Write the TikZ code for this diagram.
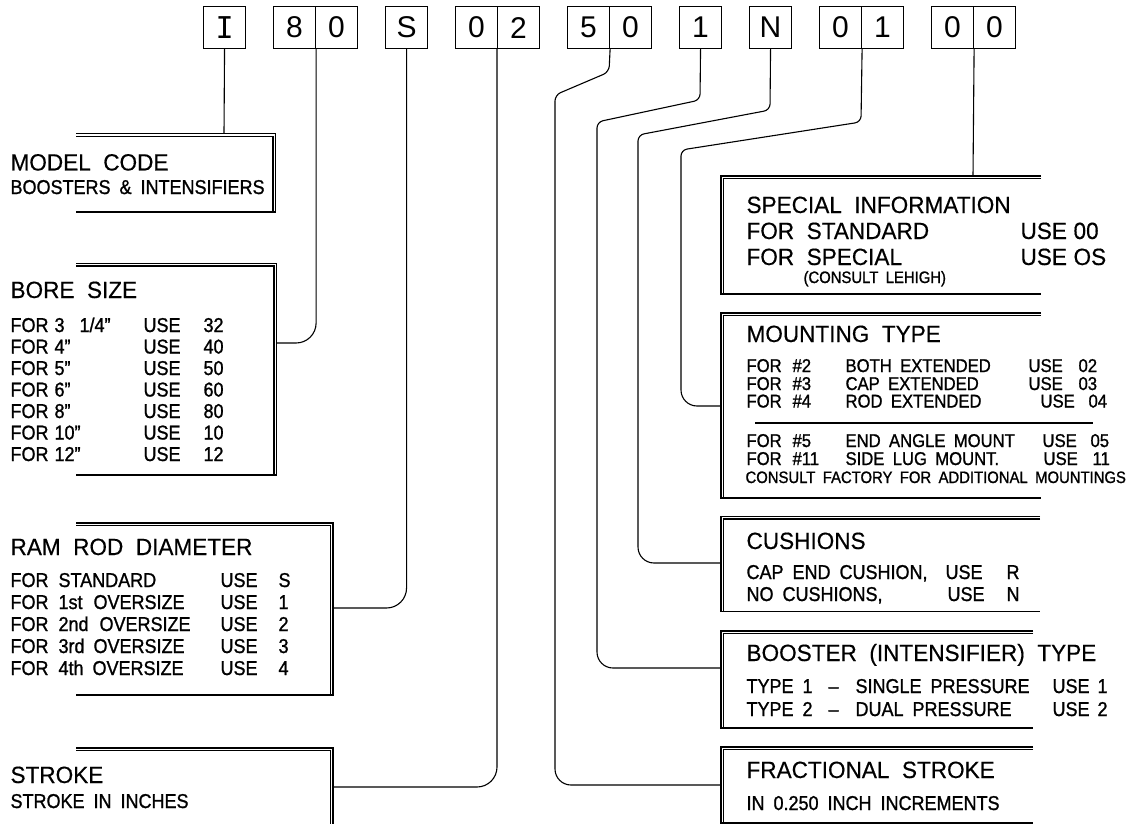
\documentclass[tikz,border=0pt]{standalone}
\usepackage{fontspec}
\setmainfont{Liberation Sans}
\newfontfamily\codemono{DejaVu Sans Mono}
\newfontfamily\ttlfont[Ligatures=TeX,FakeStretch=0.96,FakeBold=0.4,WordSpace=2]{Liberation Sans}
\newfontfamily\rowfont[Ligatures=TeX,FakeStretch=0.9,FakeBold=1.1,WordSpace=1.8]{Liberation Sans}
\newcommand\lbox[3]{%
  \draw (76,#1) -- (#3,#1) -- (#3,#2) -- (76,#2);
  \draw (76,{#1+2.5}) -- ({#3-2.5},{#1+2.5}) -- ({#3-2.5},#2);}
\newcommand\rbox[3]{%
  \draw (#3,#1) -- (721,#1) -- (721,#2) -- (#3,#2);
  \draw (#3,{#1+2.5}) -- (723.5,{#1+2.5}) -- (723.5,#2);}
\begin{document}
\begin{tikzpicture}[x=1pt,y=-1pt,line width=1.1pt,
  cell/.style={draw,minimum width=42pt,minimum height=42pt,inner sep=0pt,anchor=north west,font=\fontsize{30}{30}\selectfont},
  ttl/.style={anchor=base west,inner sep=0pt,font=\ttlfont\fontsize{23.5}{23.5}\selectfont},
  rowt/.style={anchor=base west,inner sep=0pt,font=\rowfont\fontsize{20}{20}\selectfont},
  mrow/.style={anchor=base west,inner sep=0pt,font=\rowfont\fontsize{18.5}{18.5}\selectfont},
  subt/.style={anchor=base west,inner sep=0pt,font=\rowfont\fontsize{20}{20}\selectfont},
  smallt/.style={anchor=base west,inner sep=0pt,font=\rowfont\fontsize{16.5}{16.5}\selectfont}]
\useasboundingbox (0,0) rectangle (1138,824);
% code cells
\node[cell] (cI) at (203,6) {\codemono I};
\node[cell] (c8) at (273,6) {8};
\node[cell] (c0a) at (315,6) {0};
\node[cell] (cS) at (385,6) {S};
\node[cell] (c0b) at (455,6) {0};
\node[cell] (c2) at (497,6) {2};
\node[cell] (c5) at (567,6) {5};
\node[cell] (c0c) at (609,6) {0};
\node[cell] (c1) at (679,6) {1};
\node[cell] (cN) at (749,6) {N};
\node[cell] (c0d) at (819,6) {0};
\node[cell] (c1b) at (861,6) {1};
\node[cell] (c0e) at (931,6) {0};
\node[cell] (c0f) at (973,6) {0};
% endpoint coordinates
\coordinate (mdlTop) at (224,133.7);
\coordinate (boreR) at (276.5,343);
\coordinate (ramR) at (333,608);
\coordinate (strR) at (333,787);
\coordinate (specTop) at (973,176);
\coordinate (mntL) at (721,406);
\coordinate (cushL) at (721,563);
\coordinate (boostL) at (721,668);
\coordinate (fracL) at (721,785);
% left boxes
\lbox{133.7}{212}{275.5}
\lbox{263.5}{475}{276.5}
\lbox{523}{695}{333}
\draw (76,748) -- (333,748) -- (333,824);
\draw (76,750.5) -- (330.5,750.5) -- (330.5,824);
% right boxes
\rbox{176}{294}{1041}
\rbox{313}{498}{1041}
\rbox{516.5}{611.7}{1040}
\rbox{631}{728}{1033}
\rbox{747}{823}{1033}
\draw (755,423) -- (1093,423);
% connectors
\draw (cI.south) -- (mdlTop);
\draw[rounded corners=20pt] (c8.south east) |- (boreR);
\draw[rounded corners=20pt] (cS.south) |- (ramR);
\draw[rounded corners=20pt] (c2.south west) |- (strR);
\draw[rounded corners=6pt] (c5.south east) -- (609,72) -- (555,95) [rounded corners=16pt] -- (555,785) -- (fracL);
\draw[rounded corners=6pt] (c1.south) -- (700,100) -- (597,122) [rounded corners=16pt] -- (597,668) -- (boostL);
\draw[rounded corners=6pt] (cN.south) -- (770,110) -- (638,135) [rounded corners=16pt] -- (638,563) -- (cushL);
\draw[rounded corners=6pt] (c0d.south east) -- (861,122) -- (681,150) [rounded corners=16pt] -- (681,406) -- (mntL);
\draw (c0e.south east) -- (specTop);
% model code
\node[ttl] (tModel) at (10,170.5) {MODEL CODE};
\node[subt] (sModel) at (10,194) {BOOSTERS \& INTENSIFIERS};
% bore size
\node[ttl] (tBore) at (10,298) {BORE SIZE};
\foreach \y/\v/\c [count=\i] in {332/{3\hspace{15pt}1/4”}/32,353.5/4”/40,375/5”/50,396.5/6”/60,418/8”/80,439.5/10”/10,461/12”/12}{
  \node[rowt] (bF\i) at (10,\y) {FOR};
  \node[rowt] (bV\i) at (54,\y) {\v};
  \node[rowt] (bU\i) at (143,\y) {USE};
  \node[rowt] (bC\i) at (203,\y) {\c};}
% ram rod
\node[ttl] (tRam) at (10,555) {RAM ROD DIAMETER};
\foreach \y/\v/\c [count=\i] in {587/STANDARD/S,609/1st\hspace{11pt}OVERSIZE/1,631/2nd\hspace{11pt}OVERSIZE/2,653/3rd\hspace{9pt}OVERSIZE/3,675/4th\hspace{9pt}OVERSIZE/4}{
  \node[rowt] (rF\i) at (10,\y) {FOR};
  \node[rowt] (rV\i) at (58,\y) {\v};
  \node[rowt] (rU\i) at (220,\y) {USE};
  \node[rowt] (rC\i) at (278,\y) {\c};}
% stroke
\node[ttl] (tStroke) at (10,783) {STROKE};
\node[subt] (sStroke) at (10,808) {STROKE IN INCHES};
% special information
\node[ttl] (tSpec) at (746,213) {SPECIAL INFORMATION};
\node[ttl] (sp1) at (746,239) {FOR STANDARD};
\node[ttl] (sp1u) at (1020,239) {USE};
\node[ttl] (sp1c) at (1073,239) {00};
\node[ttl] (sp2) at (746,265) {FOR SPECIAL};
\node[ttl] (sp2u) at (1020,265) {USE};
\node[ttl] (sp2c) at (1073,265) {OS};
\node[smallt] (sp3) at (803,283) {(CONSULT LEHIGH)};
% mounting type
\node[ttl] (tMnt) at (746,342) {MOUNTING TYPE};
\foreach \y/\n/\d/\ux/\cx/\c [count=\i] in {372/2/BOTH EXTENDED/1028/1078/02,390/3/CAP EXTENDED/1028/1078/03,407.5/4/ROD EXTENDED/1040/1088/04,447/5/END ANGLE MOUNT/1042/1090/05,465/11/SIDE LUG MOUNT./1043/1092/11}{
  \node[mrow] (mF\i) at (746,\y) {FOR};
  \node[mrow] (mN\i) at (792,\y) {\#\n};
  \node[mrow] (mD\i) at (845,\y) {\d};
  \node[mrow] (mU\i) at (\ux,\y) {USE};
  \node[mrow] (mC\i) at (\cx,\y) {\c};}
\node[smallt] (mCons) at (745,483) {CONSULT FACTORY FOR ADDITIONAL MOUNTINGS};
% cushions
\node[ttl] (tCush) at (746,549) {CUSHIONS};
\node[rowt] (cu1) at (746,579) {CAP END CUSHION,};
\node[rowt] (cu1u) at (945,579) {USE};
\node[rowt] (cu1c) at (1006,579) {R};
\node[rowt] (cu2) at (746,601) {NO CUSHIONS,};
\node[rowt] (cu2u) at (947,601) {USE};
\node[rowt] (cu2c) at (1006,601) {N};
% booster type
\node[ttl] (tBoost) at (746,661) {BOOSTER (INTENSIFIER) TYPE};
\foreach \y/\n/\d [count=\i] in {693/1/SINGLE PRESSURE,716/2/DUAL PRESSURE}{
  \node[rowt] (bt\i) at (746,\y) {TYPE};
  \node[rowt] (bn\i) at (802,\y) {\n};
  \node[rowt] (bd\i) at (828,\y) {--};
  \node[rowt] (bs\i) at (855,\y) {\d};
  \node[rowt] (bu\i) at (1052,\y) {USE};
  \node[rowt] (bc\i) at (1097,\y) {\n};}
% fractional stroke
\node[ttl] (tFrac) at (746,778) {FRACTIONAL STROKE};
\node[subt] (sFrac) at (746,810) {IN 0.250 INCH INCREMENTS};
\end{tikzpicture}
\end{document}
